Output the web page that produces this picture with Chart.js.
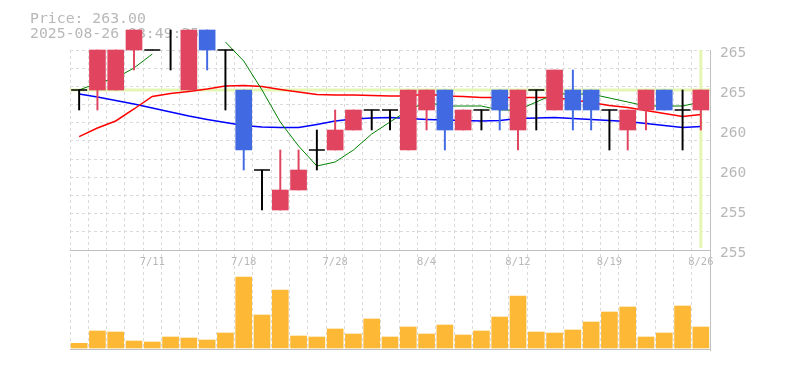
<!DOCTYPE html>
<html><head><meta charset="utf-8">
<script src="https://cdn.jsdelivr.net/npm/chart.js@4/dist/chart.umd.min.js"></script>
<style>html,body{margin:0;padding:0;background:#fff;}canvas{display:block;}</style>
</head><body>
<canvas id="c" width="785" height="370"></canvas>
<script>
// ---------- DATA ----------
const dates = ['7/7','7/8','7/9','7/10','7/11','7/14','7/15','7/16','7/17','7/18',
  '7/22','7/23','7/24','7/25','7/28','7/29','7/30','7/31','8/1','8/4',
  '8/5','8/6','8/7','8/8','8/12','8/13','8/14','8/15','8/18','8/19',
  '8/20','8/21','8/22','8/25','8/26'];
const opens  = [263,263,263,265,265,266,263,266,265,263, 259,257,258,260,260,261,262,262,260,262, 263,261,262,263,261,263,262,263,263,262, 261,262,263,262,262];
const highs  = [263,265,265,266,265,266,266,266,265,263, 259,260,260,261,262,262,262,262,263,263, 263,262,262,263,263,263,264,264,263,262, 262,263,263,263,263];
const lows   = [262,262,263,264,265,264,263,264,262,259, 257,257,258,259,260,261,261,261,260,261, 260,261,261,261,260,261,262,261,261,260, 260,261,262,260,261];
const closes = [263,265,265,266,265,266,266,265,265,260, 259,258,259,260,261,262,262,262,263,263, 261,262,262,262,263,263,264,262,262,262, 262,263,262,262,263];
const volumes = [470,1700,1600,700,600,1100,1000,800,1500,7100, 3300,5800,1200,1100,1900,1400,2900,1100,2100,1400, 2300,1300,1700,3100,5200,1600,1500,1800,2600,3600, 4100,1100,1500,4200,2100];
const ma5  = [263.0,263.35,263.6,264.1,264.8,null,null,null,265.4,264.45, 263.0,261.4,260.2,259.2,259.4,260.0,260.8,261.4,262.0,262.4, 262.2,262.2,262.2,262.0,262.0,262.4,262.8,262.8,262.8,262.6, 262.4,262.2,262.2,262.2,262.4];
const ma25 = [260.67,261.1,261.45,262.05,262.68,262.83,262.93,263.05,263.2,263.23, 263.18,263.03,262.9,262.78,262.75,262.75,262.73,262.7,262.7,262.8, 262.7,262.68,262.63,262.63,262.63,262.63,262.63,262.5,262.37,262.23, 262.13,261.97,261.83,261.68,261.78];
const ma75 = [262.8,262.65,262.48,262.3,262.1,261.9,261.7,261.53,261.38,261.23, 261.15,261.12,261.13,261.28,261.45,261.55,261.6,261.63,261.58,261.53, 261.5,261.48,261.45,261.48,261.58,261.6,261.63,261.57,261.53,261.48, 261.43,261.32,261.23,261.13,261.18];
const priceTickValues = [265,263,261,259,257,255];
const priceTickLabels = ['265','265','260','260','255','255'];
const xTickLabels = ['7/11','7/18','7/28','8/4','8/12','8/19','8/26'];
const currentPrice = 263.00;
const timestamp = '2025-08-26 08:49:35';

// ---------- STYLE ----------
const UP = '#e0445f', DOWN = '#4169e1', EVEN = '#000000';
const candleColors = opens.map((o,i)=> closes[i]>o ? UP : (closes[i]<o ? DOWN : EVEN));
const GRID = '#dadada', BORDER = '#c0c0c0', TEXT = '#b8b8b8';
const MONO = '"DejaVu Sans Mono", "Liberation Mono", monospace';
const gridLevels = [];
for (let k = 0; k <= 11; k++) gridLevels.push(265 - k * 10 / 11);

const overlay = {
  id: 'overlay',
  beforeDatasetsDraw(chart) {
    const {ctx, chartArea: a, scales: {x, y}} = chart;
    ctx.save();
    ctx.fillStyle = TEXT;
    ctx.font = '14.8px ' + MONO;
    ctx.textBaseline = 'alphabetic';
    ctx.fillText('Price: ' + currentPrice.toFixed(2), 30, 23);
    ctx.fillText(timestamp, 30, 37.5);
    ctx.strokeStyle = '#e4f5b4';
    ctx.lineWidth = 3;
    const py = y.getPixelForValue(currentPrice);
    ctx.beginPath(); ctx.moveTo(a.left, py); ctx.lineTo(a.right, py); ctx.stroke();
    const lx = x.getPixelForValue(dates.length - 1);
    ctx.beginPath(); ctx.moveTo(lx, a.top); ctx.lineTo(lx, y.getPixelForValue(255) - 2); ctx.stroke();
    ctx.strokeStyle = BORDER; ctx.lineWidth = 1;
    ctx.beginPath(); ctx.moveTo(a.left, a.bottom - 0.5); ctx.lineTo(a.right, a.bottom - 0.5); ctx.stroke();
    ctx.restore();
  }
};

new Chart(document.getElementById('c'), {
  type: 'bar',
  data: {
    labels: dates,
    datasets: [
      { type: 'line', data: opens.map((o,i)=> o===closes[i] ? closes[i] : null), yAxisID: 'y',
        showLine: false, pointStyle: 'line', pointRadius: 8, pointBorderWidth: 1.5,
        pointBorderColor: EVEN, borderColor: EVEN, clip: false, order: 1 },
      { type: 'bar', data: opens.map((o,i)=> o===closes[i] ? null : [o, closes[i]]), yAxisID: 'y',
        backgroundColor: candleColors, barThickness: 16, grouped: false, clip: false, order: 2 },
      { type: 'bar', data: lows.map((l,i)=> [l, highs[i]]), yAxisID: 'y',
        backgroundColor: candleColors, barThickness: 1.3, grouped: false, clip: false, order: 3 },
      { type: 'line', data: ma5, yAxisID: 'y', borderColor: '#008000', borderWidth: 1,
        pointRadius: 0, tension: 0, spanGaps: false, clip: false, order: 5 },
      { type: 'line', data: ma25, yAxisID: 'y', borderColor: '#ff0000', borderWidth: 1.5,
        pointRadius: 0, tension: 0, clip: false, order: 5 },
      { type: 'line', data: ma75, yAxisID: 'y', borderColor: '#0000ff', borderWidth: 1.5,
        pointRadius: 0, tension: 0, clip: false, order: 5 },
      { type: 'bar', data: volumes, yAxisID: 'yv', backgroundColor: '#fdb835',
        barThickness: 16, grouped: false, order: 10 }
    ]
  },
  options: {
    responsive: false,
    animation: false,
    events: [],
    layout: { padding: { left: 70, top: 50, right: 0, bottom: 20 } },
    plugins: { legend: { display: false }, tooltip: { enabled: false } },
    scales: {
      x: {
        type: 'category', offset: true, position: { y: 255 },
        grid: { offset: true, color: GRID, lineWidth: 1, drawTicks: false },
        border: { display: true, color: BORDER, width: 1, dash: [3, 3] },
        ticks: { autoSkip: false, maxRotation: 0, minRotation: 0, padding: 6, color: TEXT,
          font: { family: MONO, size: 10.5 },
          callback: function(v, i) { const l = dates[i]; return xTickLabels.includes(l) ? l : ''; } },
        afterFit: s => { s.height = 0; }
      },
      yg: {
        type: 'linear', position: 'left', min: 250, max: 265,
        afterBuildTicks: s => { s.ticks = gridLevels.map(v => ({ value: v })); },
        ticks: { display: false },
        grid: { color: GRID, lineWidth: 1, drawTicks: false },
        border: { display: false, dash: [3, 3] },
        afterFit: s => { s.width = 0; }
      },
      y: {
        type: 'linear', position: 'right', min: 250, max: 265,
        afterBuildTicks: s => { s.ticks = priceTickValues.map(v => ({ value: v })); },
        ticks: { color: TEXT, padding: 10, labelOffset: 3, font: { family: MONO, size: 14.5 },
          callback: v => priceTickLabels[priceTickValues.indexOf(v)] },
        grid: { display: false, drawTicks: false },
        border: { display: true, color: BORDER, width: 1 },
        afterFit: s => { s.width = 75; }
      },
      yv: { type: 'linear', display: false, min: -200, max: 29800 }
    }
  },
  plugins: [overlay]
});
</script>
</body></html>
